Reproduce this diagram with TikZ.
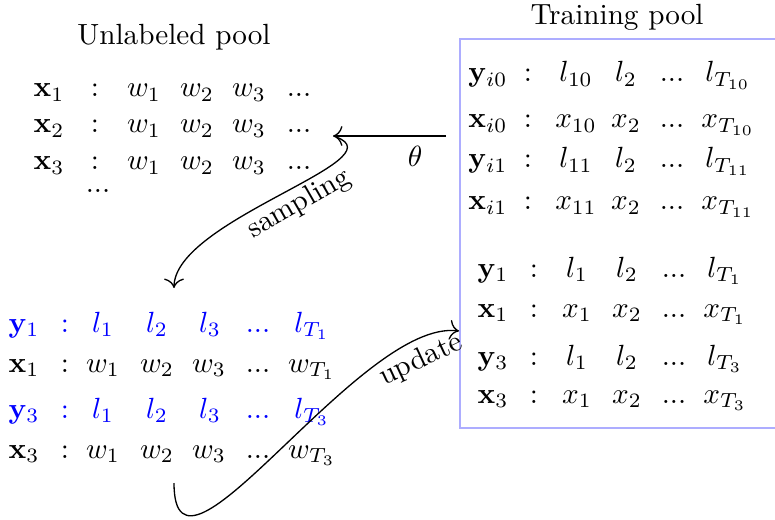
\documentclass[tikz,border=0pt]{standalone}
\usepackage{amsmath}
\usetikzlibrary{arrows.meta}
\begin{document}
\begin{tikzpicture}[x=0.3425pt,y=-0.3425pt,
  cell/.style={anchor=base,inner sep=0pt},
  blu/.style={text=blue},
  title/.style={anchor=base,inner sep=0pt},
  conn/.style={-{To[scale=1.25]},line width=0.45pt},
  poolbox/.style={draw=blue!32,line width=0.5pt},
  lab/.style={inner sep=0pt}]
\useasboundingbox (0,0) rectangle (775,519);
% titles
\node[title] (tU) at (174,45) {Unlabeled pool};
\node[title] (tT) at (617,25) {Training pool};
% training box
\draw[poolbox] (460,39) rectangle (800,428);
% unlabeled pool
\foreach \yy/\r in {97/1,133/2,170/3}{
  \node[cell] (u\r-0) at (49,\yy) {$\mathbf{x}_\r$};
  \node[cell] (u\r-1) at (95,\yy) {$:$};
  \node[cell] (u\r-2) at (144,\yy) {$w_1$};
  \node[cell] (u\r-3) at (197,\yy) {$w_2$};
  \node[cell] (u\r-4) at (249,\yy) {$w_3$};
  \node[cell] (u\r-5) at (299,\yy) {$...$};
}
\node[cell] (udots) at (98,193) {$...$};
% sampled (bottom left)
\foreach \yy/\r/\st in {332/1/blu,418/3/blu}{
  \node[cell,\st] (s\r-0) at (24,\yy) {$\mathbf{y}_\r$};
  \node[cell,\st] (s\r-1) at (65,\yy) {$:$};
  \node[cell,\st] (s\r-2) at (103,\yy) {$l_1$};
  \node[cell,\st] (s\r-3) at (157,\yy) {$l_2$};
  \node[cell,\st] (s\r-4) at (210,\yy) {$l_3$};
  \node[cell,\st] (s\r-5) at (258,\yy) {$...$};
  \node[cell,\st] (s\r-6) at (312,\yy) {$l_{T_\r}$};
}
\foreach \yy/\r in {372/1,458/3}{
  \node[cell] (w\r-0) at (24,\yy) {$\mathbf{x}_\r$};
  \node[cell] (w\r-1) at (65,\yy) {$:$};
  \node[cell] (w\r-2) at (103,\yy) {$w_1$};
  \node[cell] (w\r-3) at (157,\yy) {$w_2$};
  \node[cell] (w\r-4) at (209,\yy) {$w_3$};
  \node[cell] (w\r-5) at (258,\yy) {$...$};
  \node[cell] (w\r-6) at (312,\yy) {$w_{T_\r}$};
}
% training pool, upper rows
\foreach \yy/\r/\v/\a/\b/\k in {82/a/y/l/{10}/0,128/b/x/x/{10}/0,168/c/y/l/{11}/1,210/d/x/x/{11}/1}{
  \node[cell] (t\r-0) at (488,\yy) {$\mathbf{\v}_{i\k}$};
  \node[cell] (t\r-1) at (528,\yy) {$:$};
  \node[cell] (t\r-2) at (576,\yy) {$\a_{\b}$};
  \node[cell] (t\r-3) at (626,\yy) {$\a_2$};
  \node[cell] (t\r-4) at (672,\yy) {$...$};
  \node[cell] (t\r-5) at (728,\yy) {$\a_{T_{\b}}$};
}
% training pool, lower rows
\foreach \yy/\r/\v/\a/\n in {277/e/y/l/1,317/f/x/x/1,365/g/y/l/3,403/h/x/x/3}{
  \node[cell] (t\r-0) at (493,\yy) {$\mathbf{\v}_\n$};
  \node[cell] (t\r-1) at (534,\yy) {$:$};
  \node[cell] (t\r-2) at (577,\yy) {$\a_1$};
  \node[cell] (t\r-3) at (627,\yy) {$\a_2$};
  \node[cell] (t\r-4) at (674,\yy) {$...$};
  \node[cell] (t\r-5) at (725,\yy) {$\a_{T_\n}$};
}
% connectors
\coordinate (thS) at (446,136);
\coordinate (thE) at (333,136);
\draw[conn] (thS) -- (thE);
\node[cell] (theta) at (415,167) {$\theta$};
\coordinate (sS) at (336,137);
\coordinate (sE) at (174,288);
\draw[conn] (sS) .. controls (400,160) and (174,220) .. (sE);
\node[lab,rotate=30] (samp) at (299,204) {sampling};
\coordinate (uS) at (174,483);
\coordinate (uE) at (459,331);
\draw[conn] (uS) .. controls (174,612) and (360,318) .. (uE);
\node[lab,rotate=25] (upd) at (421,360) {update};
\end{tikzpicture}
\end{document}
